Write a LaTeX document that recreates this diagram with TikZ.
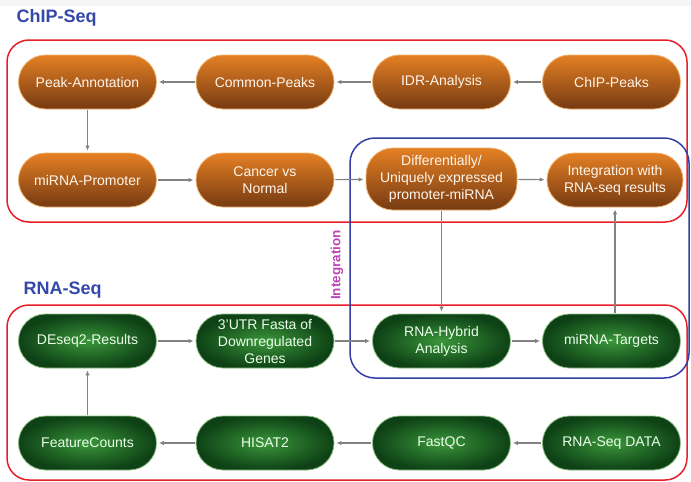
\documentclass[tikz,border=0pt]{standalone}
\usepackage{fontspec}
\setmainfont{Liberation Sans}
\usetikzlibrary{arrows.meta}

\definecolor{titleblue}{RGB}{52,72,170}
\definecolor{frameblue}{RGB}{50,62,165}
\definecolor{framered}{RGB}{232,30,40}
\definecolor{intmagenta}{RGB}{190,70,180}
\definecolor{chiptop}{RGB}{228,128,36}
\definecolor{chipbot}{RGB}{118,58,18}
\definecolor{chipedge}{RGB}{240,178,110}
\definecolor{rnain}{RGB}{58,150,58}
\definecolor{rnaout}{RGB}{14,66,22}
\definecolor{rnaedge}{RGB}{140,190,130}
\definecolor{flowgrey}{RGB}{130,130,130}

\begin{document}
\begin{tikzpicture}[x = 1pt, y = -1pt,
    chipbox/.style = {rectangle, rounded corners = 27pt, minimum width = 138pt, minimum height = 54pt,
      top color = chiptop, bottom color = chipbot, draw = chipedge, line width = .8pt,
      text = white!92!orange, align = center, font = \fontsize{14}{17}\selectfont},
    rnabox/.style = {rectangle, rounded corners = 27pt, minimum width = 138pt, minimum height = 54pt,
      inner color = rnain, outer color = rnaout, draw = rnaedge, line width = .8pt,
      text = white!92!green, align = center, font = \fontsize{14}{17}\selectfont},
    flow/.style = {-{Latex[length = 5pt, width = 4.5pt]}, draw = flowgrey, line width = 1.1pt, shorten >=2pt, shorten <=1pt},
    seqtitle/.style = {anchor = west, text = titleblue, font = \fontsize{18}{20}\selectfont\bfseries}]
      \useasboundingbox (0,0) rectangle (691,482);
      \fill [gray!7] (0,0) rectangle (691,6);

      % frames
      \draw [framered, line width = 1.5pt, rounded corners = 22pt] (7,40) rectangle (687,222);
      \draw [framered, line width = 1.5pt, rounded corners = 22pt] (7,305) rectangle (687,480);
      \draw [frameblue, line width = 1.5pt, rounded corners = 25pt] (350,138) rectangle (689,378);
      \node [seqtitle] (chiptitle) at (13,18) {ChIP-Seq};
      \node [seqtitle] (rnatitle) at (20,290) {RNA-Seq};
      \node [rotate = 90, text = intmagenta, font = \fontsize{13.5}{15}\selectfont\bfseries] (integ) at (337,265) {Integration};

      % ChIP-Seq
      \node [chipbox] (peakann) at (87.5,82) {Peak-Annotation};
      \node [chipbox] (common) at (265,82) {Common-Peaks};
      \node [chipbox] (idr) at (441.5,82) {IDR-Analysis};
      \node [chipbox] (chippeaks) at (611.5,82) {ChIP-Peaks};
      \node [chipbox] (promoter) at (87.5,180) {miRNA-Promoter};
      \node [chipbox] (cancer) at (265,180) {Cancer vs\\Normal};
      \node [chipbox, minimum width = 151pt, minimum height = 62pt] (diffmir) at (441.5,179) {Differentially/\\Uniquely expressed\\promoter-miRNA};
      \node [chipbox, minimum width = 136pt] (intrna) at (615,180) {Integration with\\RNA-seq results};

      % RNA-Seq
      \node [rnabox] (deseq) at (87.5,341) {DEseq2-Results};
      \node [rnabox] (utr) at (265,341) {3'UTR Fasta of\\Downregulated\\Genes};
      \node [rnabox] (hybrid) at (441.5,341) {RNA-Hybrid\\Analysis};
      \node [rnabox] (targets) at (611.5,341) {miRNA-Targets};
      \node [rnabox] (fcounts) at (87.5,443) {FeatureCounts};
      \node [rnabox] (hisat) at (265,443) {HISAT2};
      \node [rnabox] (fastqc) at (441.5,443) {FastQC};
      \node [rnabox] (rnadata) at (611.5,443) {RNA-Seq DATA};

      \draw [flow] (chippeaks) -- (idr);
      \draw [flow] (idr) -- (common);
      \draw [flow] (common) -- (peakann);
      \draw [flow] (peakann) -- (promoter);
      \draw [flow] (promoter) -- (cancer);
      \draw [flow] (cancer) -- (diffmir);
      \draw [flow] (diffmir) -- (intrna);
      \draw [flow] (diffmir) -- (hybrid);
      \draw [flow] (targets.north -| intrna) -- (intrna);
      \draw [flow] (rnadata) -- (fastqc);
      \draw [flow] (fastqc) -- (hisat);
      \draw [flow] (hisat) -- (fcounts);
      \draw [flow] (fcounts) -- (deseq);
      \draw [flow] (deseq) -- (utr);
      \draw [flow] (utr) -- (hybrid);
      \draw [flow] (hybrid) -- (targets);
\end{tikzpicture}
\end{document}
